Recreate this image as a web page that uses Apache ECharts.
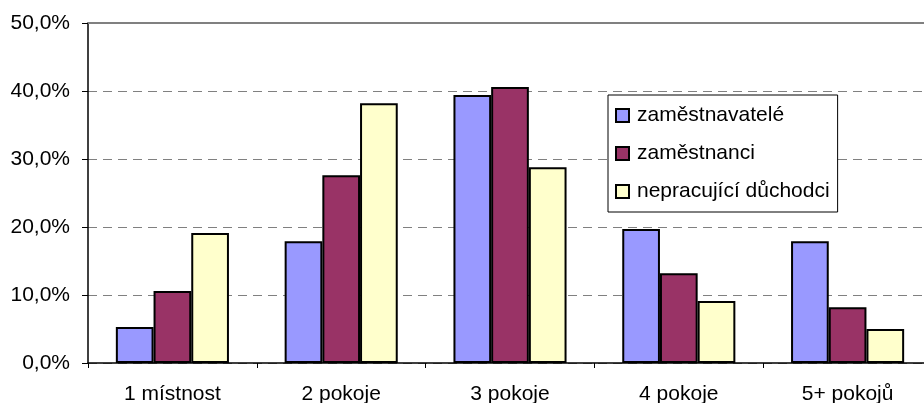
<!DOCTYPE html>
<html><head><meta charset="utf-8">
<script src="https://cdn.jsdelivr.net/npm/echarts@6/dist/echarts.min.js"></script>
<style>html,body{margin:0;padding:0;background:#fff}#c{width:924px;height:403px}</style>
</head><body><div id="c"></div>
<script>
const categories = ['1 místnost', '2 pokoje', '3 pokoje', '4 pokoje', '5+ pokojů'];
const seriesNames = ['zaměstnavatelé', 'zaměstnanci', 'nepracující důchodci'];
const zamestnavatele = [0.053, 0.179, 0.394, 0.197, 0.179];
const zamestnanci = [0.106, 0.276, 0.406, 0.132, 0.082];
const duchodci = [0.191, 0.382, 0.288, 0.091, 0.050];
const colors = ['#9999FF', '#993366', '#FFFFCC'];
const font = 'Liberation Sans, Arial, sans-serif';

const chart = echarts.init(document.getElementById('c'), null, {renderer: 'canvas'});
const data = [zamestnavatele, zamestnanci, duchodci];
chart.setOption({
  animation: false,
  textStyle: {fontFamily: font, color: '#000'},
  grid: {left: 88, top: 23, width: 844, height: 340, containLabel: false, outerBoundsMode: 'none'},
  legend: {
    orient: 'vertical', left: 608, top: 95, width: 229,
    data: seriesNames,
    backgroundColor: '#fff', borderColor: '#000', borderWidth: 1,
    padding: [10, 8, 10, 7],
    itemWidth: 13, itemHeight: 13, itemGap: 17,
    icon: 'rect',
    textStyle: {fontFamily: font, fontSize: 21, color: '#000', padding: [0, 0, 0, 3]}
  },
  xAxis: [{
    type: 'category', data: categories,
    axisLine: {lineStyle: {color: '#000', width: 1.5}},
    axisTick: {show: true, length: 5, alignWithLabel: false, lineStyle: {color: '#000'}},
    axisLabel: {fontFamily: font, fontSize: 21, color: '#000', margin: 21}
  }, {
    type: 'category', data: categories, position: 'top',
    axisLine: {lineStyle: {color: '#808080', width: 2}},
    axisTick: {show: false}, axisLabel: {show: false}
  }],
  yAxis: {
    type: 'value', min: 0, max: 0.5, interval: 0.1,
    axisLine: {show: true, lineStyle: {color: '#000', width: 1.5}},
    axisTick: {show: true, length: 6, lineStyle: {color: '#000'}},
    axisLabel: {fontFamily: font, fontSize: 21, color: '#000', margin: 18,
      formatter: v => (v * 100).toFixed(1).replace('.', ',') + '%'},
    splitLine: {show: true, lineStyle: {color: '#808080', type: [9, 6], width: 1}}
  },
  series: seriesNames.map((n, i) => ({
    name: n, type: 'bar', data: data[i],
    barGap: '0%', barCategoryGap: '33%',
    itemStyle: {color: colors[i], borderColor: '#000', borderWidth: 2}
  }))
});
</script></body></html>
